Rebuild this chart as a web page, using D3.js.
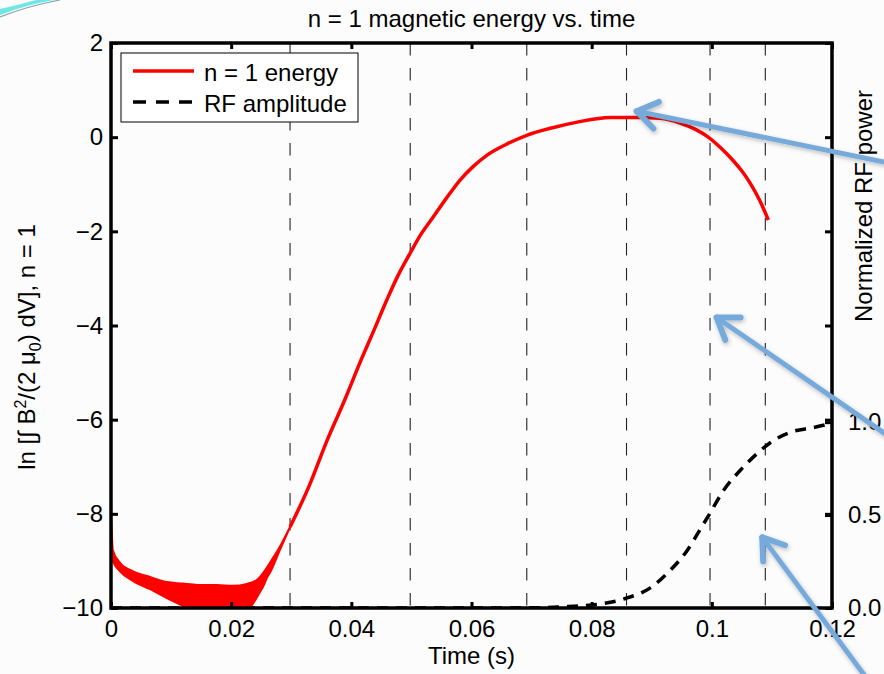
<!DOCTYPE html>
<html>
<head>
<meta charset="utf-8">
<script src="https://cdn.jsdelivr.net/npm/d3@7"></script>
<style>
  html, body { margin: 0; padding: 0; background: #fcfcfc; }
  svg { display: block; }
  text { font-family: "Liberation Sans", Arial, Helvetica, sans-serif; fill: #000; }
</style>
</head>
<body>
<svg id="chart" width="884" height="674"></svg>
<script>
// ---------------- data ----------------
const titleText = "n = 1 magnetic energy vs. time";
const xLabelText = "Time (s)";
const rightLabelText = "Normalized RF power";

const xTicks = [0, 0.02, 0.04, 0.06, 0.08, 0.1, 0.12];
const xTickLabels = ["0", "0.02", "0.04", "0.06", "0.08", "0.1", "0.12"];
const yTicks = [2, 0, -2, -4, -6, -8, -10];
const rfTicks = [0, 0.5, 1.0];
const rfTickLabels = ["0.0", "0.5", "1.0"];

// noisy early phase: envelope of the oscillating signal
const bandT     = [0, 0.0003, 0.0015, 0.0037, 0.0065, 0.0093, 0.012, 0.0137, 0.0148, 0.0176, 0.0203, 0.0226, 0.0231, 0.0243, 0.0248, 0.0253, 0.026, 0.0265, 0.0281, 0.0298];
const bandUpper = [-7.9, -8.77, -9.04, -9.22, -9.34, -9.45, -9.48, -9.50, -9.51, -9.51, -9.53, -9.49, -9.47, -9.40, -9.34, -9.26, -9.13, -9.03, -8.70, -8.28];
const bandLower = [-8.0, -9.0, -9.22, -9.43, -9.60, -9.79, -9.96, -10.08, -10.12, -10.15, -10.12, -10.08, -10.0, -9.77, -9.66, -9.55, -9.35, -9.24, -8.77, -8.28];

// n = 1 energy after the noisy phase
const energyT = [0.0298, 0.033, 0.036, 0.039, 0.0414, 0.0437, 0.0459, 0.0478, 0.0498, 0.0516, 0.0536, 0.0558, 0.0581, 0.0603, 0.0626, 0.0658, 0.0692, 0.0735, 0.0776, 0.0831, 0.088, 0.0914, 0.0947, 0.0972, 0.0994, 0.1015, 0.1035, 0.105, 0.1064, 0.108, 0.1094];
const energyV = [-8.28, -7.4, -6.43, -5.55, -4.80, -4.12, -3.46, -2.93, -2.46, -2.06, -1.70, -1.30, -0.91, -0.62, -0.38, -0.15, 0.04, 0.20, 0.32, 0.42, 0.42, 0.40, 0.30, 0.17, 0.0, -0.23, -0.49, -0.72, -0.98, -1.35, -1.76];

// RF amplitude (right axis)
const rfT = [0, 0.06, 0.072, 0.076, 0.080, 0.0859, 0.0897, 0.093, 0.0959, 0.098, 0.0997, 0.1019, 0.1047, 0.1075, 0.1102, 0.1135, 0.1168, 0.1195];
const rfV = [0, 0, 0.002, 0.008, 0.016, 0.054, 0.107, 0.20, 0.31, 0.42, 0.51, 0.63, 0.74, 0.83, 0.90, 0.95, 0.97, 0.99];

// vertical marker times
const markerTimes = [0.0298, 0.0498, 0.0692, 0.0858, 0.0997, 0.1089];

// annotation arrows: tip positions in data coords
const arrowTips = [[0.0875, 0.55], [0.1008, -3.83], [0.1084, -8.5]];

const legendLabels = ["n = 1 energy", "RF amplitude"];

// ---------------- layout ----------------
const svg = d3.select("#chart");
const L = 111, R = 832, T = 43, B = 608;
const FS = 24;

const x = d3.scaleLinear().domain([0, 0.12]).range([L, R]);
const y = d3.scaleLinear().domain([-10, 2]).range([B, T]);
const yr = d3.scaleLinear().domain([0, 3.04]).range([B, T]);

svg.append("rect").attr("width", 884).attr("height", 674).attr("fill", "#fcfcfc");

// top-left decorative swoosh
svg.append("path")
  .attr("d", "M0,15 Q25,5 54,0 L36,0 Q18,5 0,9 Z")
  .attr("fill", "#5fe3e3").attr("opacity", 0.9);
svg.append("path")
  .attr("d", "M0,17 Q28,6 60,0")
  .attr("fill", "none").attr("stroke", "#8aa8a8").attr("stroke-width", 1.2);

// clip
svg.append("defs").append("clipPath").attr("id", "plotclip")
  .append("rect").attr("x", L).attr("y", T).attr("width", R - L).attr("height", B - T);

const plot = svg.append("g").attr("clip-path", "url(#plotclip)");

// vertical dashed markers
plot.selectAll("line.marker").data(markerTimes).join("line")
  .attr("class", "marker")
  .attr("x1", d => x(d)).attr("x2", d => x(d))
  .attr("y1", T).attr("y2", B)
  .attr("stroke", "#222").attr("stroke-width", 1.1)
  .attr("stroke-dasharray", "12.5,12.5");

// RF dashed curve
const rfData = rfT.map((t, i) => [t, rfV[i]]);
plot.append("path")
  .datum(rfData)
  .attr("d", d3.line().x(d => x(d[0])).y(d => yr(d[1])).curve(d3.curveMonotoneX))
  .attr("fill", "none").attr("stroke", "#000").attr("stroke-width", 3.5)
  .attr("stroke-dasharray", "11,8");

// noise band
const bandData = bandT.map((t, i) => [t, bandUpper[i], bandLower[i]]);
plot.append("path")
  .datum(bandData)
  .attr("d", d3.area().x(d => x(d[0])).y0(d => y(d[2])).y1(d => y(d[1])).curve(d3.curveMonotoneX))
  .attr("fill", "#ff0000").attr("stroke", "#ff0000").attr("stroke-width", 2);

// energy line
const eData = energyT.map((t, i) => [t, energyV[i]]);
plot.append("path")
  .datum(eData)
  .attr("d", d3.line().x(d => x(d[0])).y(d => y(d[1])).curve(d3.curveMonotoneX))
  .attr("fill", "none").attr("stroke", "#ff0000").attr("stroke-width", 3.5)
  .attr("stroke-linejoin", "round");

// ---------------- axes ----------------
function styleAxis(g) {
  g.selectAll(".domain").remove();
  g.selectAll(".tick line").attr("stroke", "#000").attr("stroke-width", 3);
  g.selectAll(".tick text").attr("font-size", FS).attr("font-family", "Liberation Sans, Arial, sans-serif").attr("fill", "#000");
}

svg.append("g").attr("transform", `translate(0,${B})`)
  .call(d3.axisBottom(x).tickValues(xTicks).tickFormat((d, i) => xTickLabels[i]).tickSizeInner(-6).tickSizeOuter(0).tickPadding(12))
  .call(styleAxis);
svg.append("g").attr("transform", `translate(0,${T})`)
  .call(d3.axisTop(x).tickValues(xTicks).tickFormat("").tickSizeInner(-6).tickSizeOuter(0))
  .call(styleAxis);
svg.append("g").attr("transform", `translate(${L},0)`)
  .call(d3.axisLeft(y).tickValues(yTicks).tickFormat(d3.format("d")).tickSizeInner(-7).tickSizeOuter(0).tickPadding(8))
  .call(styleAxis);
svg.append("g").attr("transform", `translate(${R},0)`)
  .call(d3.axisRight(y).tickValues(yTicks).tickFormat("").tickSizeInner(-7).tickSizeOuter(0))
  .call(styleAxis);
svg.append("g").attr("transform", `translate(${R},0)`)
  .call(d3.axisRight(yr).tickValues(rfTicks).tickFormat((d, i) => rfTickLabels[i]).tickSizeInner(-7).tickSizeOuter(0).tickPadding(16))
  .call(styleAxis);

// box
svg.append("rect").attr("x", L).attr("y", T).attr("width", R - L).attr("height", B - T)
  .attr("fill", "none").attr("stroke", "#000").attr("stroke-width", 3.5);

// title and labels
svg.append("text").attr("x", (L + R) / 2).attr("y", 27).attr("text-anchor", "middle")
  .attr("font-size", FS).text(titleText);
svg.append("text").attr("x", (L + R) / 2).attr("y", 664).attr("text-anchor", "middle")
  .attr("font-size", FS).text(xLabelText);

const yl = svg.append("text").attr("transform", "translate(35,347) rotate(-90)")
  .attr("text-anchor", "middle").attr("font-size", FS);
yl.append("tspan").text("ln [\u222B B");
yl.append("tspan").attr("font-size", 16).attr("dy", -9).text("2");
yl.append("tspan").attr("dy", 9).text("/(2 \u03BC");
yl.append("tspan").attr("font-size", 16).attr("dy", 6).text("0");
yl.append("tspan").attr("dy", -6).text(") dV], n = 1");

svg.append("text").attr("transform", "translate(872,206) rotate(-90)")
  .attr("text-anchor", "middle").attr("font-size", FS).text(rightLabelText);

// legend
const lg = svg.append("g");
lg.append("rect").attr("x", 121).attr("y", 53).attr("width", 237).attr("height", 69)
  .attr("fill", "#fff").attr("stroke", "#000").attr("stroke-width", 1);
lg.append("line").attr("x1", 133).attr("x2", 194).attr("y1", 71).attr("y2", 71)
  .attr("stroke", "#ff0000").attr("stroke-width", 3.5);
lg.append("line").attr("x1", 133).attr("x2", 194).attr("y1", 102).attr("y2", 102)
  .attr("stroke", "#000").attr("stroke-width", 3.5).attr("stroke-dasharray", "13,10");
lg.append("text").attr("x", 204).attr("y", 81).attr("font-size", FS).text(legendLabels[0]);
lg.append("text").attr("x", 204).attr("y", 112).attr("font-size", FS).text(legendLabels[1]);

// annotation arrows (slide overlay)
const arrowSlopes = [[1, 0.205], [1, 0.69], [1, 1.35]];
const filt = svg.select("defs").append("filter").attr("id", "shadow").attr("x", "-20%").attr("y", "-20%").attr("width", "140%").attr("height", "140%");
filt.append("feDropShadow").attr("dx", 1).attr("dy", 2).attr("stdDeviation", 2).attr("flood-color", "#000").attr("flood-opacity", 0.25);

const ag = svg.append("g").attr("filter", "url(#shadow)");
arrowTips.forEach((tp, i) => {
  const px = x(tp[0]), py = y(tp[1]);
  const [dx, dy] = arrowSlopes[i];
  const len = Math.hypot(dx, dy);
  const ux = dx / len, uy = dy / len;
  const far = 400;
  ag.append("line").attr("x1", px).attr("y1", py).attr("x2", px + ux * far).attr("y2", py + uy * far)
    .attr("stroke", "#76aadb").attr("stroke-width", 5).attr("stroke-linecap", "round");
  const ang = Math.atan2(uy, ux);
  [-0.6, 0.6].forEach(a => {
    ag.append("line").attr("x1", px).attr("y1", py)
      .attr("x2", px + Math.cos(ang + a) * 24).attr("y2", py + Math.sin(ang + a) * 24)
      .attr("stroke", "#76aadb").attr("stroke-width", 6).attr("stroke-linecap", "round");
  });
});
</script>
</body>
</html>
